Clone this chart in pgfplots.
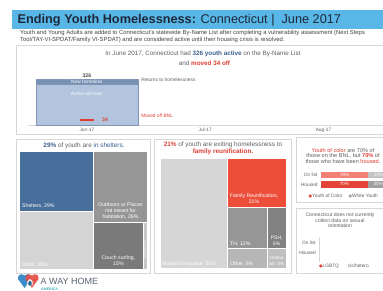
\documentclass[border=0pt]{standalone}
\usepackage{pgfplots}
\pgfplotsset{compat=1.18}
\usepackage{fontspec}
\setmainfont{Liberation Sans}
\newfontfamily\dejavu{DejaVu Sans}
\definecolor{banner}{RGB}{88,183,230}
\definecolor{titletxt}{RGB}{30,40,58}
\definecolor{bodytxt}{RGB}{95,95,95}
\definecolor{tblue}{RGB}{60,95,145}
\definecolor{tred}{RGB}{222,62,50}
\definecolor{frame}{RGB}{215,215,215}
\definecolor{rollover}{RGB}{178,196,222}
\definecolor{newhl}{RGB}{118,146,180}
\definecolor{barborder}{RGB}{130,150,178}
\definecolor{shelter}{RGB}{72,110,155}
\definecolor{gOut}{RGB}{150,150,150}
\definecolor{gCouch}{RGB}{122,122,122}
\definecolor{gOther}{RGB}{212,212,212}
\definecolor{gSliver}{RGB}{200,200,200}
\definecolor{famred}{RGB}{236,78,58}
\definecolor{gTH}{RGB}{150,150,150}
\definecolor{gPSH}{RGB}{130,130,130}
\definecolor{gOth2}{RGB}{182,182,182}
\definecolor{gUnk}{RGB}{192,192,192}
\definecolor{gInact}{RGB}{214,214,214}
\definecolor{pinkred}{RGB}{242,130,120}
\definecolor{darkred}{RGB}{228,68,56}
\definecolor{wyl}{RGB}{195,195,195}
\definecolor{wyh}{RGB}{160,160,160}
\definecolor{tealc}{RGB}{70,175,185}
\definecolor{logoblue}{RGB}{60,140,200}
\definecolor{logored}{RGB}{230,80,70}
\definecolor{logotxt}{RGB}{90,100,115}
\newcommand\fs[2]{\fontsize{#1}{#2}\selectfont}
\begin{document}
\begin{tikzpicture}
\useasboundingbox (0,0) rectangle (383pt,291pt);
\clip (0,0) rectangle (383pt,291pt);
\fill[white] (0,0) rectangle (383pt,291pt);
\begin{scope}[x=1pt,y=-1pt,yshift=291pt]
% banner
\fill[banner] (12,10) rectangle (395,29.5);
\node[anchor=base west, inner sep=0, font=\fs{12.7}{15}, text=titletxt] at (17.5,23.5) {\bfseries Ending Youth Homelessness:\mdseries{} Connecticut |\ \ June 2017};
\node[anchor=base west, inner sep=0, font=\fs{5.9}{7}, text=bodytxt!70!black] at (20,35) {Youth and Young Adults are added to Connecticut's statewide By-Name List after completing a vulnerability assessment (Next Steps};
\node[anchor=base west, inner sep=0, font=\fs{5.9}{7}, text=bodytxt!70!black] at (20,41.8) {Tool/TAY-VI-SPDAT/Family VI-SPDAT) and are considered active until their housing crisis is resolved.};
% frames
\draw[frame, line width=0.6pt] (16.5,45.5) rectangle (395,134);
\draw[frame, line width=0.6pt] (16.5,139) rectangle (150.7,273.5);
\draw[frame, line width=0.6pt] (154,139) rectangle (291,273.5);
\draw[frame, line width=0.6pt] (296,137.5) rectangle (395,202.7);
\draw[frame, line width=0.6pt] (296,208.3) rectangle (395,273);
% top panel text
\node[anchor=base, inner sep=0, font=\fs{6.3}{7}, text=bodytxt] at (203,56) {In June 2017, Connecticut had {\bfseries\color{tblue}326 youth active} on the By-Name List};
\node[anchor=base, inner sep=0, font=\fs{6.3}{7}, text=bodytxt] at (204.5,65.5) {and {\bfseries\color{tred}moved 34 off}};
% panel titles
\node[anchor=base, inner sep=0, font=\fs{6.4}{7}, text=bodytxt] at (84,147.5) {{\bfseries\color{tblue}29\%} of youth are {\color{tblue}in shelters.}};
\node[anchor=base, inner sep=0, font=\fs{6.4}{7}, text=bodytxt] at (223,146.5) {{\bfseries\color{tred}21\%} of youth are exiting homelessness to};
\node[anchor=base, inner sep=0, font=\fs{6.4}{7}, text=bodytxt] at (223,153.3) {{\bfseries\color{tred}family reunification.}};
\node[anchor=base, inner sep=0, font=\fs{5.6}{6}, text=bodytxt] at (343,152.5) {{\color{tred}Youth of color} are 70\% of};
\node[anchor=base, inner sep=0, font=\fs{5.6}{6}, text=bodytxt] at (343,158) {those on the BNL, but {\bfseries\color{tred}70\%} of};
\node[anchor=base, inner sep=0, font=\fs{5.6}{6}, text=bodytxt] at (343,163.5) {those who have been {\color{tred}housed.}};
\node[anchor=base west, inner sep=0, font=\dejavu\fs{4}{5}, text=darkred] at (308.5,197.5) {●};
\node[anchor=base west, inner sep=0, font=\fs{4.8}{5}, text=bodytxt] at (312,197.5) {Youth of Color};
\node[anchor=base west, inner sep=0, font=\dejavu\fs{4}{5}, text=wyh] at (348.5,197.5) {●};
\node[anchor=base west, inner sep=0, font=\fs{4.8}{5}, text=bodytxt] at (352,197.5) {White Youth};
\node[anchor=base, inner sep=0, font=\fs{5.1}{6}, text=bodytxt] at (340,217) {Connecticut does not currently};
\node[anchor=base, inner sep=0, font=\fs{5.1}{6}, text=bodytxt] at (340,222.5) {collect data on sexual};
\node[anchor=base, inner sep=0, font=\fs{5.1}{6}, text=bodytxt] at (340,228) {orientation};
\node[anchor=base west, inner sep=0, font=\dejavu\fs{4}{5}, text=darkred] at (319,267.5) {●};
\node[anchor=base west, inner sep=0, font=\fs{4.8}{5}, text=bodytxt] at (322.5,267.5) {LGBTQ};
\node[anchor=base west, inner sep=0, font=\fs{4.8}{5}, text=bodytxt] at (347.7,267.5) {cis/hetero};
% logo
\fill[logoblue] (21.5,277.8) circle (3.6) (27.5,277.8) circle (3.6);
\fill[logoblue] (18.05,279) -- (30.95,279) -- (24.5,288) -- cycle;
\fill[logored, opacity=0.92] (29,277.8) circle (3.6) (35,277.8) circle (3.6);
\fill[logored, opacity=0.92] (25.55,279) -- (38.45,279) -- (32,288) -- cycle;
\fill[white] (27.3,285.5) -- (27.3,281.5) -- (30,279) -- (32.7,281.5) -- (32.7,285.5) -- cycle;
\fill[logoblue!70!black] (28.4,285.5) -- (28.4,282.2) -- (30,280.6) -- (31.6,282.2) -- (31.6,285.5) -- cycle;
\node[anchor=base west, inner sep=0, font=\fs{9}{10}, text=logotxt] at (40.5,285) {A WAY HOME};
\node[anchor=base west, inner sep=0, font=\fs{3.6}{4}\bfseries, text=tealc] at (41,291) {AMERICA};
\end{scope}

% ---- top bar chart
\begin{axis}[at={(27.7pt,166pt)}, anchor=south west, width=355pt, height=56.4pt, scale only axis,
  xmin=-0.5, xmax=2.5, ymin=0, ymax=400,
  axis x line*=bottom, axis y line=none, axis line style={draw=frame,-},
  xtick={0,1,2}, xticklabels={Jun-17,Jul-17,Aug-17}, major tick length=0pt,
  xticklabel style={font=\fs{4.8}{5}, text=bodytxt, inner sep=1pt, yshift=-2pt}, clip=false]
\addplot[ybar, bar shift=0pt, bar width=102pt, fill=newhl, draw=barborder, line width=0.4pt] coordinates {(0,326)};
\addplot[ybar, bar shift=0pt, bar width=102pt, fill=rollover, draw=barborder, line width=0.4pt] coordinates {(0,290)};
\addplot[only marks, mark=-, mark size=7pt, mark options={line width=1.6pt, draw=tred}] coordinates {(0,34)};
\node[anchor=south, inner sep=1.5pt, font=\fs{5.2}{6}\bfseries, text=bodytxt!80!black] at (axis cs:0,326) {326};
\node[font=\fs{4.8}{5}, text=white] at (axis cs:0,307) {New homeless};
\node[font=\fs{4.8}{5}, text=white] at (axis cs:0,220) {Active roll-over};
\node[anchor=west, font=\fs{5.2}{6}\bfseries, text=tred] at (axis cs:0.1,34) {34};
\node[anchor=west, inner sep=0, font=\fs{4.8}{5}, text=bodytxt] at (axis cs:0.458,319) {Returns to homelessness};
\node[anchor=west, inner sep=0, font=\fs{4.8}{5}, text=tred] at (axis cs:0.458,64) {Moved off BNL};
\end{axis}

% ---- left treemap (pixel layout)
\begin{axis}[at={(83.5pt,80pt)}, anchor=center, width=127pt, height=118pt, scale only axis,
  xmin=20, xmax=147, ymin=152, ymax=270, y dir=reverse, hide axis, clip=false]
\addplot[fill=shelter, draw=white, line width=1pt] coordinates {(20,152)(93.2,152)(93.2,212)(20,212)} -- cycle;
\addplot[fill=gOther, draw=white, line width=1pt] coordinates {(20,212)(93.2,212)(93.2,270)(20,270)} -- cycle;
\addplot[fill=gOut, draw=white, line width=1pt] coordinates {(93.2,152)(147,152)(147,223)(93.2,223)} -- cycle;
\addplot[fill=gCouch, draw=white, line width=1pt] coordinates {(93.2,223)(143,223)(143,270)(93.2,270)} -- cycle;
\addplot[fill=gSliver, draw=white, line width=1pt] coordinates {(143,223)(147,223)(147,270)(143,270)} -- cycle;
\node[anchor=base west, inner sep=0, font=\fs{5.2}{5}, text=white] at (axis cs:22,207.5) {Shelters, 29\%};
\node[inner sep=0, align=center, font=\fs{5.2}{5.8}, text=white] at (axis cs:120.5,211) {Outdoors or Places\\not meant for\\habitation, 26\%};
\node[inner sep=0, align=center, font=\fs{5.2}{5.8}, text=white] at (axis cs:118.5,260.5) {Couch surfing,\\15\%};
\node[anchor=base west, inner sep=0, font=\fs{5.2}{5}, text=white] at (axis cs:22,267) {Other, 28\%};
\node[rotate=90, inner sep=0, font=\fs{2.8}{3}, text=white] at (axis cs:145,250) {Unknown, 2\%};
\end{axis}

% ---- middle treemap (pixel layout)
\begin{axis}[at={(223pt,77pt)}, anchor=center, width=126pt, height=110pt, scale only axis,
  xmin=160, xmax=286, ymin=159, ymax=269, y dir=reverse, hide axis, clip=false]
\addplot[fill=gInact, draw=white, line width=1pt] coordinates {(160,159)(227.5,159)(227.5,269)(160,269)} -- cycle;
\addplot[fill=famred, draw=white, line width=1pt] coordinates {(227.5,159)(286,159)(286,208)(227.5,208)} -- cycle;
\addplot[fill=gTH, draw=white, line width=1pt] coordinates {(227.5,208)(267.5,208)(267.5,249)(227.5,249)} -- cycle;
\addplot[fill=gPSH, draw=white, line width=1pt] coordinates {(267.5,208)(286,208)(286,249)(267.5,249)} -- cycle;
\addplot[fill=gOth2, draw=white, line width=1pt] coordinates {(227.5,249)(267.5,249)(267.5,269)(227.5,269)} -- cycle;
\addplot[fill=gUnk, draw=white, line width=1pt] coordinates {(267.5,249)(286,249)(286,269)(267.5,269)} -- cycle;
\node[inner sep=0, align=center, font=\fs{5.2}{6.2}, text=white] at (axis cs:254,198.5) {Family Reunification,\\21\%};
\node[anchor=base west, inner sep=0, font=\fs{5.2}{5}, text=white] at (axis cs:230,246) {TH, 12\%};
\node[inner sep=0, align=center, font=\fs{5}{6}, text=white] at (axis cs:276.7,240.3) {PSH,\\6\%};
\node[anchor=base west, inner sep=0, font=\fs{5.2}{5}, text=white] at (axis cs:230,266) {Other, 6\%};
\node[inner sep=0, align=center, font=\fs{4.6}{6}, text=white] at (axis cs:276.7,261.5) {Unkno\\wn, 3\%};
\node[anchor=base west, inner sep=0, font=\fs{5.2}{5}, text=white] at (axis cs:162,266) {Moved to inactive, 51\%};
\end{axis}

% ---- race bars
\begin{axis}[at={(320.7pt,102pt)}, anchor=south west, width=67.5pt, height=18.6pt, scale only axis,
  xmin=0, xmax=100, ymin=-0.5, ymax=1.5, axis line style={draw=none}, xtick=\empty,
  ytick={0,1}, yticklabels={Housed,On list}, major tick length=0pt,
  yticklabel style={font=\fs{4.8}{5}, text=bodytxt, inner sep=1pt, xshift=-2pt}, clip=false]
\addplot[xbar, bar shift=0pt, bar width=6.7pt, fill=wyl, draw=none] coordinates {(100,1)};
\addplot[xbar, bar shift=0pt, bar width=6.7pt, fill=wyh, draw=none] coordinates {(100,0)};
\addplot[xbar, bar shift=0pt, bar width=6.7pt, fill=pinkred, draw=none] coordinates {(70.6,1)};
\addplot[xbar, bar shift=0pt, bar width=6.7pt, fill=darkred, draw=none] coordinates {(70,0)};
\node[font=\fs{4.5}{5}, text=white] at (axis cs:35.3,1) {70\%};
\node[font=\fs{4.5}{5}, text=white] at (axis cs:35,0) {70\%};
\node[font=\fs{4.5}{5}, text=white] at (axis cs:85.3,1) {29\%};
\node[font=\fs{4.5}{5}, text=white] at (axis cs:85,0) {30\%};
\end{axis}

% ---- sexual orientation (no data)
\begin{axis}[at={(319pt,29pt)}, anchor=south west, width=55pt, height=25pt, scale only axis,
  xmin=0, xmax=1, ymin=-0.93, ymax=1.57, axis x line=none, axis y line*=left,
  axis line style={draw=frame,-},
  ytick={0,1}, yticklabels={Housed,On list}, major tick length=0pt,
  yticklabel style={font=\fs{4.8}{5}, text=bodytxt, inner sep=1pt, xshift=-2pt}]
\end{axis}
\end{tikzpicture}
\end{document}
